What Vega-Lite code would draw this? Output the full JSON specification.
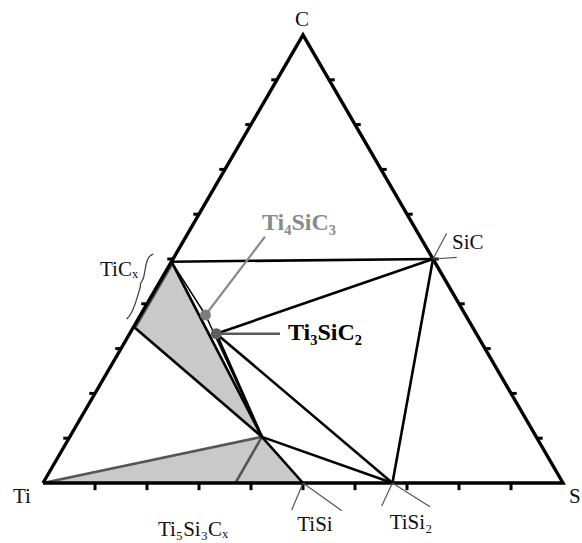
{
  "$schema": "https://vega.github.io/schema/vega-lite/v6.json",
  "width": 520,
  "height": 448,
  "autosize": "none",
  "padding": {"left": 43, "top": 35, "right": 19, "bottom": 60},
  "background": "white",
  "config": {"view": {"stroke": null}},
  "datasets": {
    "polys": [
      {"p": "a", "i": 0, "x": 0.247, "y": 0.494},
      {"p": "a", "i": 1, "x": 0.1745, "y": 0.349},
      {"p": "a", "i": 2, "x": 0.421, "y": 0.103},
      {"p": "b", "i": 0, "x": 0, "y": 0},
      {"p": "b", "i": 1, "x": 0.421, "y": 0.103},
      {"p": "b", "i": 2, "x": 0.5, "y": 0}
    ],
    "frame": [
      {"i": 0, "x": 0, "y": 0},
      {"i": 1, "x": 1, "y": 0},
      {"i": 2, "x": 0.5, "y": 1},
      {"i": 3, "x": 0, "y": 0}
    ],
    "brace": [
      {"i": 0, "x": 0.2121, "y": 0.5112},
      {"i": 1, "x": 0.2025, "y": 0.5051},
      {"i": 2, "x": 0.1981, "y": 0.4904},
      {"i": 3, "x": 0.1945, "y": 0.4605},
      {"i": 4, "x": 0.1905, "y": 0.4500},
      {"i": 5, "x": 0.1865, "y": 0.4442},
      {"i": 6, "x": 0.1880, "y": 0.4400},
      {"i": 7, "x": 0.1852, "y": 0.4300},
      {"i": 8, "x": 0.1769, "y": 0.3973},
      {"i": 9, "x": 0.1690, "y": 0.3760},
      {"i": 10, "x": 0.1610, "y": 0.3660}
    ],
    "segs": [
      {"g": "tie", "x": 0.247, "y": 0.494, "x2": 0.75, "y2": 0.5},
      {"g": "tie", "x": 0.247, "y": 0.494, "x2": 0.421, "y2": 0.103},
      {"g": "tie", "x": 0.1745, "y": 0.349, "x2": 0.421, "y2": 0.103},
      {"g": "tie", "x": 0.3333, "y": 0.3333, "x2": 0.75, "y2": 0.5},
      {"g": "tie", "x": 0.3333, "y": 0.3333, "x2": 0.672, "y2": 0},
      {"g": "tie", "x": 0.3333, "y": 0.3333, "x2": 0.421, "y2": 0.103},
      {"g": "tie", "x": 0.421, "y": 0.103, "x2": 0.672, "y2": 0},
      {"g": "tie", "x": 0.421, "y": 0.103, "x2": 0.5, "y2": 0},
      {"g": "tie", "x": 0.75, "y": 0.5, "x2": 0.672, "y2": 0},
      {"g": "thin", "x": 0.247, "y": 0.494, "x2": 0.3125, "y2": 0.375},
      {"g": "thin", "x": 0.3125, "y": 0.375, "x2": 0.421, "y2": 0.103},
      {"g": "gray", "x": 0, "y": 0, "x2": 0.421, "y2": 0.103},
      {"g": "gray", "x": 0.421, "y": 0.103, "x2": 0.37, "y2": 0},
      {"g": "gray", "x": 0.1785, "y": 0.349, "x2": 0.251, "y2": 0.494},
      {"g": "lead", "x": 0.75, "y": 0.5, "x2": 0.7763, "y2": 0.5574},
      {"g": "lead", "x": 0.75, "y": 0.5, "x2": 0.7956, "y2": 0.5038},
      {"g": "lead", "x": 0.5, "y": 0, "x2": 0.4783, "y2": -0.0603},
      {"g": "lead", "x": 0.5, "y": 0, "x2": 0.5744, "y2": -0.0618},
      {"g": "lead", "x": 0.672, "y": 0, "x2": 0.6513, "y2": -0.0513},
      {"g": "lead", "x": 0.672, "y": 0, "x2": 0.7442, "y2": -0.0529},
      {"g": "lead4", "x": 0.4269, "y": 0.5498, "x2": 0.3125, "y2": 0.375},
      {"g": "lead3", "x": 0.3333, "y": 0.3333, "x2": 0.4558, "y2": 0.3333},
      {"g": "tick", "x": 0.1, "y": 0, "x2": 0.1, "y2": -0.016},
      {"g": "tick", "x": 0.2, "y": 0, "x2": 0.2, "y2": -0.016},
      {"g": "tick", "x": 0.3, "y": 0, "x2": 0.3, "y2": -0.016},
      {"g": "tick", "x": 0.4, "y": 0, "x2": 0.4, "y2": -0.016},
      {"g": "tick", "x": 0.5, "y": 0, "x2": 0.5, "y2": -0.016},
      {"g": "tick", "x": 0.6, "y": 0, "x2": 0.6, "y2": -0.016},
      {"g": "tick", "x": 0.7, "y": 0, "x2": 0.7, "y2": -0.016},
      {"g": "tick", "x": 0.8, "y": 0, "x2": 0.8, "y2": -0.016},
      {"g": "tick", "x": 0.9, "y": 0, "x2": 0.9, "y2": -0.016},
      {"g": "tick", "x": 0.05, "y": 0.1, "x2": 0.039, "y2": 0.1},
      {"g": "tick", "x": 0.1, "y": 0.2, "x2": 0.089, "y2": 0.2},
      {"g": "tick", "x": 0.15, "y": 0.3, "x2": 0.139, "y2": 0.3},
      {"g": "tick", "x": 0.2, "y": 0.4, "x2": 0.189, "y2": 0.4},
      {"g": "tick", "x": 0.25, "y": 0.5, "x2": 0.239, "y2": 0.5},
      {"g": "tick", "x": 0.3, "y": 0.6, "x2": 0.289, "y2": 0.6},
      {"g": "tick", "x": 0.35, "y": 0.7, "x2": 0.339, "y2": 0.7},
      {"g": "tick", "x": 0.4, "y": 0.8, "x2": 0.389, "y2": 0.8},
      {"g": "tick", "x": 0.45, "y": 0.9, "x2": 0.439, "y2": 0.9},
      {"g": "tick", "x": 0.95, "y": 0.1, "x2": 0.961, "y2": 0.1},
      {"g": "tick", "x": 0.9, "y": 0.2, "x2": 0.911, "y2": 0.2},
      {"g": "tick", "x": 0.85, "y": 0.3, "x2": 0.861, "y2": 0.3},
      {"g": "tick", "x": 0.8, "y": 0.4, "x2": 0.811, "y2": 0.4},
      {"g": "tick", "x": 0.75, "y": 0.5, "x2": 0.761, "y2": 0.5},
      {"g": "tick", "x": 0.7, "y": 0.6, "x2": 0.711, "y2": 0.6},
      {"g": "tick", "x": 0.65, "y": 0.7, "x2": 0.661, "y2": 0.7},
      {"g": "tick", "x": 0.6, "y": 0.8, "x2": 0.611, "y2": 0.8},
      {"g": "tick", "x": 0.55, "y": 0.9, "x2": 0.561, "y2": 0.9}
    ],
    "dots": [
      {"d": "Ti4SiC3", "x": 0.3125, "y": 0.375},
      {"d": "Ti3SiC2", "x": 0.3333, "y": 0.3333}
    ],
    "labels": [
      {"s": "n", "t": "C", "x": 0.498, "y": 1.0335},
      {"s": "n", "t": "Ti", "x": -0.0404, "y": -0.031},
      {"s": "l", "t": "S", "x": 1.0115, "y": -0.031},
      {"s": "l", "t": "SiC", "x": 0.7865, "y": 0.5357},
      {"s": "r", "t": "TiCₓ", "x": 0.1827, "y": 0.4754},
      {"s": "n", "t": "Ti₅Si₃Cₓ", "x": 0.2885, "y": -0.1049},
      {"s": "n", "t": "TiSi", "x": 0.523, "y": -0.0937},
      {"s": "n", "t": "TiSi₂", "x": 0.7077, "y": -0.0893},
      {"s": "g", "t": "Ti₄SiC₃", "x": 0.4923, "y": 0.5804},
      {"s": "b", "t": "Ti₃SiC₂", "x": 0.4712, "y": 0.3348}
    ]
  },
  "encoding": {
    "x": {"field": "x", "type": "quantitative", "scale": {"domain": [0, 1], "nice": false, "zero": false}, "axis": null},
    "y": {"field": "y", "type": "quantitative", "scale": {"domain": [0, 1], "nice": false, "zero": false}, "axis": null}
  },
  "layer": [
    {
      "data": {"name": "polys"},
      "mark": {"type": "line", "fill": "#c9c9c9", "stroke": "#c9c9c9", "strokeWidth": 0.5},
      "encoding": {"detail": {"field": "p"}, "order": {"field": "i", "type": "quantitative"}}
    },
    {
      "data": {"name": "segs"},
      "transform": [{"filter": "datum.g === 'gray'"}],
      "mark": {"type": "rule", "color": "#555555", "strokeWidth": 2.6},
      "encoding": {"x2": {"field": "x2"}, "y2": {"field": "y2"}}
    },
    {
      "data": {"name": "segs"},
      "transform": [{"filter": "datum.g === 'tie'"}],
      "mark": {"type": "rule", "color": "#000000", "strokeWidth": 2.6},
      "encoding": {"x2": {"field": "x2"}, "y2": {"field": "y2"}}
    },
    {
      "data": {"name": "segs"},
      "transform": [{"filter": "datum.g === 'thin'"}],
      "mark": {"type": "rule", "color": "#000000", "strokeWidth": 1.5},
      "encoding": {"x2": {"field": "x2"}, "y2": {"field": "y2"}}
    },
    {
      "data": {"name": "frame"},
      "mark": {"type": "line", "color": "#000000", "strokeWidth": 3.4, "strokeJoin": "miter"},
      "encoding": {"order": {"field": "i", "type": "quantitative"}}
    },
    {
      "data": {"name": "segs"},
      "transform": [{"filter": "datum.g === 'tick'"}],
      "mark": {"type": "rule", "color": "#000000", "strokeWidth": 3},
      "encoding": {"x2": {"field": "x2"}, "y2": {"field": "y2"}}
    },
    {
      "data": {"name": "segs"},
      "transform": [{"filter": "datum.g === 'lead'"}],
      "mark": {"type": "rule", "color": "#555555", "strokeWidth": 1.2},
      "encoding": {"x2": {"field": "x2"}, "y2": {"field": "y2"}}
    },
    {
      "data": {"name": "segs"},
      "transform": [{"filter": "datum.g === 'lead4'"}],
      "mark": {"type": "rule", "color": "#8a8a8a", "strokeWidth": 2.2},
      "encoding": {"x2": {"field": "x2"}, "y2": {"field": "y2"}}
    },
    {
      "data": {"name": "segs"},
      "transform": [{"filter": "datum.g === 'lead3'"}],
      "mark": {"type": "rule", "color": "#5a5a5a", "strokeWidth": 2.4},
      "encoding": {"x2": {"field": "x2"}, "y2": {"field": "y2"}}
    },
    {
      "data": {"name": "brace"},
      "mark": {"type": "line", "color": "#444444", "strokeWidth": 1.3, "interpolate": "basis"},
      "encoding": {"order": {"field": "i", "type": "quantitative"}}
    },
    {
      "data": {"name": "dots"},
      "transform": [{"filter": "datum.d === 'Ti4SiC3'"}],
      "mark": {"type": "circle", "color": "#7d7d7d", "size": 120, "opacity": 1}
    },
    {
      "data": {"name": "dots"},
      "transform": [{"filter": "datum.d === 'Ti3SiC2'"}],
      "mark": {"type": "circle", "color": "#5e5e5e", "size": 120, "opacity": 1}
    },
    {
      "data": {"name": "labels"},
      "transform": [{"filter": "datum.s === 'n'"}],
      "mark": {"type": "text", "font": "Liberation Serif", "fontSize": 21, "color": "#111111", "align": "center", "baseline": "middle"},
      "encoding": {"text": {"field": "t"}}
    },
    {
      "data": {"name": "labels"},
      "transform": [{"filter": "datum.s === 'l'"}],
      "mark": {"type": "text", "font": "Liberation Serif", "fontSize": 21, "color": "#111111", "align": "left", "baseline": "middle"},
      "encoding": {"text": {"field": "t"}}
    },
    {
      "data": {"name": "labels"},
      "transform": [{"filter": "datum.s === 'r'"}],
      "mark": {"type": "text", "font": "Liberation Serif", "fontSize": 21, "color": "#111111", "align": "right", "baseline": "middle"},
      "encoding": {"text": {"field": "t"}}
    },
    {
      "data": {"name": "labels"},
      "transform": [{"filter": "datum.s === 'g'"}],
      "mark": {"type": "text", "font": "Liberation Serif", "fontSize": 24, "fontWeight": "bold", "color": "#8a8a8a", "align": "center", "baseline": "middle"},
      "encoding": {"text": {"field": "t"}}
    },
    {
      "data": {"name": "labels"},
      "transform": [{"filter": "datum.s === 'b'"}],
      "mark": {"type": "text", "font": "Liberation Serif", "fontSize": 24, "fontWeight": "bold", "color": "#000000", "align": "left", "baseline": "middle"},
      "encoding": {"text": {"field": "t"}}
    }
  ]
}
